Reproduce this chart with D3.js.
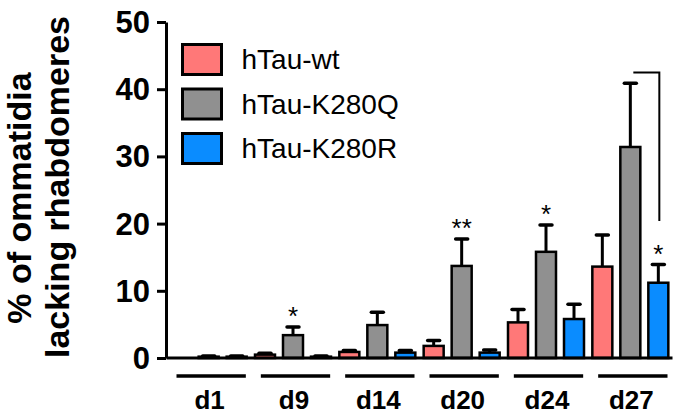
<!DOCTYPE html>
<html>
<head>
<meta charset="utf-8">
<script src="https://cdn.jsdelivr.net/npm/d3@7"></script>
<style>
  body { margin: 0; background: #fff; }
  text { font-family: "Liberation Sans", Arial, sans-serif; }
</style>
</head>
<body>
<div id="chart"></div>
<script>
// data
var days = ["d1", "d9", "d14", "d20", "d24", "d27"];
var series = ["hTau-wt", "hTau-K280Q", "hTau-K280R"];
var colors = ["#ff7878", "#909090", "#0a8cff"];

var wtMean    = [0.0, 0.5, 0.9, 1.8, 5.3, 13.6];
var wtErr     = [0.0, 0.2, 0.2, 0.8, 1.9, 4.7];
var k280qMean = [0.2, 3.4, 4.9, 13.7, 15.8, 31.4];
var k280qErr  = [0.1, 1.2, 1.9, 4.0, 4.0, 9.5];
var k280rMean = [0.2, 0.2, 0.8, 0.8, 5.8, 11.2];
var k280rErr  = [0.1, 0.1, 0.3, 0.4, 2.2, 2.7];

var yTicks = [0, 10, 20, 30, 40, 50];

// significance marks: [day, series index, label]
var stars = [["d9", 1, "*"], ["d20", 1, "**"], ["d24", 1, "*"], ["d27", 2, "*"]];

var means = [wtMean, k280qMean, k280rMean];
var errs = [wtErr, k280qErr, k280rErr];

var svgWidth = 675, svgHeight = 415;

var svg = d3.select("#chart").append("svg")
    .attr("width", svgWidth)
    .attr("height", svgHeight);

var x0 = d3.scaleBand()
    .domain(days)
    .range([166.5, 672.5]);

var x1 = d3.scalePoint()
    .domain(d3.range(series.length))
    .range([-28, 28]);

var y = d3.scaleLinear()
    .domain([0, 50])
    .range([358, 22]);

var barW = 20;

// flatten into one list of bars
var bars = [];
days.forEach(function(d, i) {
  series.forEach(function(s, j) {
    bars.push({day: d, s: j, v: means[j][i], e: errs[j][i]});
  });
});

function cx(b) { return x0(b.day) + x0.bandwidth() / 2 + x1(b.s); }

// error bars (upper only)
var eg = svg.append("g");
eg.selectAll("line.stem")
    .data(bars.filter(b => b.e > 0))
    .enter().append("line")
    .attr("x1", cx).attr("x2", cx)
    .attr("y1", b => y(b.v))
    .attr("y2", b => y(b.v + b.e))
    .attr("stroke", "#000")
    .attr("stroke-width", 3);
eg.selectAll("line.cap")
    .data(bars.filter(b => b.e > 0))
    .enter().append("line")
    .attr("x1", b => cx(b) - 6).attr("x2", b => cx(b) + 6)
    .attr("y1", b => y(b.v + b.e))
    .attr("y2", b => y(b.v + b.e))
    .attr("stroke", "#000")
    .attr("stroke-width", 3.5)
    .attr("stroke-linecap", "round");

// bars
svg.append("g").selectAll("rect")
    .data(bars)
    .enter().append("rect")
    .attr("x", b => cx(b) - barW / 2)
    .attr("y", b => y(b.v))
    .attr("width", barW)
    .attr("height", b => y(0) - y(b.v))
    .attr("fill", b => colors[b.s])
    .attr("stroke", "#000")
    .attr("stroke-width", 2.5);

// baseline
svg.append("line")
    .attr("x1", x0.range()[0]).attr("x2", x0.range()[1])
    .attr("y1", y(0)).attr("y2", y(0))
    .attr("stroke", "#000")
    .attr("stroke-width", 3);

// y axis
var yAxis = svg.append("g")
    .attr("transform", "translate(166,0)")
    .call(d3.axisLeft(y).tickValues(yTicks).tickSize(9).tickSizeOuter(0).tickPadding(7));
yAxis.select(".domain").attr("stroke-width", 3);
yAxis.selectAll(".tick line").attr("stroke-width", 3);
yAxis.selectAll(".tick text")
    .attr("font-size", 31)
    .attr("font-weight", "bold")
    .attr("font-family", "Liberation Sans, Arial, sans-serif")
    .attr("fill", "#000")
    .attr("dy", "0.34em");

// group underlines and labels
var gl = svg.append("g");
gl.selectAll("line")
    .data(days)
    .enter().append("line")
    .attr("x1", d => x0(d) + 10)
    .attr("x2", d => x0(d) + x0.bandwidth() - 5)
    .attr("y1", 376).attr("y2", 376)
    .attr("stroke", "#000")
    .attr("stroke-width", 3.5);
gl.selectAll("text")
    .data(days)
    .enter().append("text")
    .attr("x", d => x0(d) + x0.bandwidth() / 2 + 1)
    .attr("y", 409)
    .attr("text-anchor", "middle")
    .attr("font-size", 26)
    .attr("font-weight", "bold")
    .text(d => d);

// asterisks
svg.append("g").selectAll("text")
    .data(stars)
    .enter().append("text")
    .attr("x", s => x0(s[0]) + x0.bandwidth() / 2 + x1(s[1]))
    .attr("y", function(s) {
      var i = days.indexOf(s[0]);
      return y(means[s[1]][i] + errs[s[1]][i]) - 2;
    })
    .attr("text-anchor", "middle")
    .attr("font-size", 26)
    .text(s => s[2]);

// bracket between K280Q and K280R at d27
var bx1 = x0("d27") + x0.bandwidth() / 2 + x1(1) + 3;
var bx2 = x0("d27") + x0.bandwidth() / 2 + x1(2) + 1;
svg.append("path")
    .attr("d", `M${bx1},${y(42.5)}H${bx2}V${y(20.4)}`)
    .attr("fill", "none")
    .attr("stroke", "#000")
    .attr("stroke-width", 2);

// legend
var legend = svg.append("g").selectAll("g")
    .data(series)
    .enter().append("g")
    .attr("transform", (d, i) => `translate(182.5,${44.5 + i * 44.5})`);
legend.append("rect")
    .attr("width", 39).attr("height", 30)
    .attr("fill", (d, i) => colors[i])
    .attr("stroke", "#000")
    .attr("stroke-width", 3);
legend.append("text")
    .attr("x", 59)
    .attr("y", 15)
    .attr("dy", "0.34em")
    .attr("font-size", 28)
    .text(d => d);

// y title
var title = svg.append("text")
    .attr("transform", "rotate(-90)")
    .attr("text-anchor", "middle")
    .attr("font-size", 34)
    .attr("font-weight", "bold");
title.append("tspan").attr("x", -198).attr("y", 31).text("% of ommatidia");
title.append("tspan").attr("x", -187).attr("y", 69).text("lacking rhabdomeres");
</script>
</body>
</html>
